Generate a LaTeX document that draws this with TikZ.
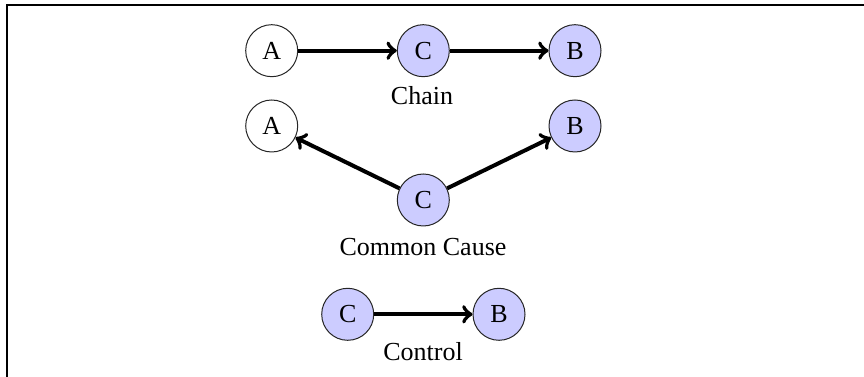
\documentclass[tikz,border=0pt]{standalone}
\usepackage{fontspec}
\setmainfont{Liberation Serif}
\begin{document}
\begin{tikzpicture}[x=0.4pt,y=-0.4pt,
  varnode/.style={circle,draw=black!85,line width=0.4pt,minimum size=20.8pt,inner sep=0pt,font=\fontsize{10.4}{12}\selectfont},
  obs/.style={varnode,fill=blue!20},
  unobs/.style={varnode,fill=white},
  edge/.style={->,line width=1.6pt},
  lbl/.style={inner sep=0pt,font=\fontsize{10.4}{12}\selectfont},
  frame/.style={line width=0.5pt}]
\useasboundingbox (0,0) rectangle (864,377);
\coordinate (f1) at (7,377);
\coordinate (f2) at (7,5);
\coordinate (f3) at (864,5);
\draw[frame] (f1) -- (f2) -- (f3);
% Chain
\node[unobs] (a1) at (271.7,50.7) {A};
\node[obs] (c1) at (423.3,50.7) {C};
\node[obs] (b1) at (575,50.7) {B};
\draw[edge] (a1) -- (c1);
\draw[edge] (c1) -- (b1);
\node[lbl] (l1) at (422,96) {Chain};
% Common cause
\node[unobs] (a2) at (271.7,126) {A};
\node[obs] (b2) at (575,126) {B};
\node[obs] (c2) at (423.3,200) {C};
\draw[edge] (c2) -- (a2);
\draw[edge] (c2) -- (b2);
\node[lbl] (l2) at (423,247) {Common Cause};
% Control
\node[obs] (c3) at (347.7,314.3) {C};
\node[obs] (b3) at (499,314.3) {B};
\draw[edge] (c3) -- (b3);
\node[lbl] (l3) at (423,352) {Control};
\end{tikzpicture}
\end{document}
